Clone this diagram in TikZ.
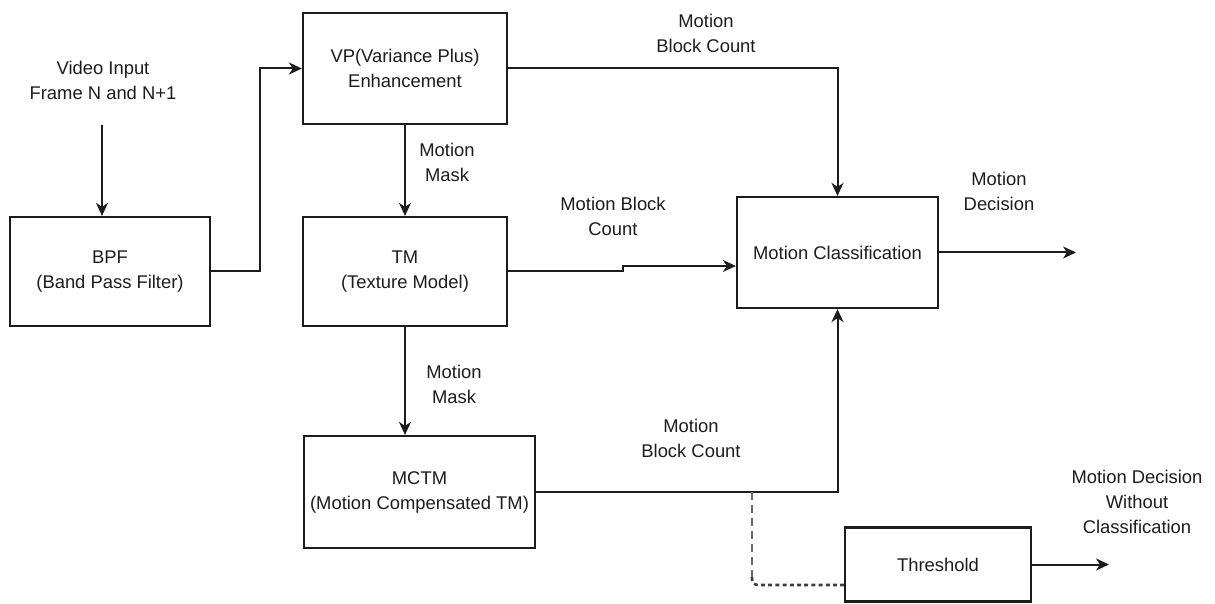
\documentclass[tikz,border=0pt]{standalone}
\usepackage{fontspec}
\setmainfont{Liberation Sans}
\usetikzlibrary{arrows.meta}
\definecolor{ink}{HTML}{1C1C1C}
\definecolor{dashgray}{HTML}{6A6A6A}

\begin{document}
\begin{tikzpicture}[
  x=0.5pt, y=-0.5pt,
  >={Stealth[length=6.5pt, width=6pt, inset=2pt]},
  every node/.style={font=\fontsize{9.2}{12.5}\selectfont, text=ink},
  box/.style 2 args={
    draw=ink, line width=1.1pt, minimum width=#1, minimum height=#2,
    align=center, inner sep=2pt},
  lbl/.style={align=center, inner sep=1pt},
  link/.style={->, draw=ink, line width=1pt},
]

% Canvas (fixes the margins)
\useasboundingbox (0,0) rectangle (1215,604);

% === Processing blocks ===
\node[box={100pt}{54.5pt}] (bpf) at (110,271.5) {BPF\\(Band Pass Filter)};
\node[box={102pt}{55.5pt}] (vp) at (405,68.5) {VP(Variance Plus)\\Enhancement};
\node[box={102pt}{54.5pt}] (tm) at (405,271.5) {TM\\(Texture Model)};
\node[box={115.5pt}{56pt}] (mctm) at (419.5,492) {MCTM\\(Motion Compensated TM)};
\node[box={100.5pt}{55.5pt}] (mc) at (837.5,252.5) {Motion Classification};
\node[box={93pt}{37pt}] (thr) at (938,564.5) {Threshold};

% === Labels ===
\node[lbl] (vin) at (103,80) {Video Input\\Frame N and N+1};
\node[lbl] (mask1) at (447,162) {Motion\\Mask};
\node[lbl] (mask2) at (454,384) {Motion\\Mask};
\node[lbl] (mbc1) at (706,33) {Motion\\Block Count};
\node[lbl] (mbc2) at (613,216) {Motion Block\\Count};
\node[lbl] (mbc3) at (691,438) {Motion\\Block Count};
\node[lbl] (mdec) at (999,191) {Motion\\Decision};
\node[lbl] (mdwc) at (1137,502) {Motion Decision\\Without\\Classification};

% Free ends of the connectors
\coordinate (vinend) at (102,125);
\coordinate (mcout) at (1076,252.5);
\coordinate (throut) at (1109,564.5);
\coordinate (tap) at (752,492);
\coordinate (tapbot) at (752,585);

% === Main chain ===
\draw[link] (vinend) -- (vinend |- bpf.north);
\draw[link] (bpf.east) -- ++(49,0) |- (vp.west);
\draw[link] (vp.south) -- (tm.north);
\draw[link] (tm.south) -- (tm.south |- mctm.north);

% === Block counts into the classifier ===
\draw[link] (vp.east) -| (mc.north);
\draw[link] (tm.east) -- ++(115,0) |- ([yshift=-6.75pt]mc.west);
\draw[link] (mctm.east) -| (mc.south);

% === Outputs ===
\draw[link] (mc.east) -- (mcout);
\draw[link] (thr.east) -- (throut);

% Bypass to the threshold (dashed, then dotted)
\draw[dashgray, line width=0.6pt, dash pattern=on 4pt off 2.5pt] (tap) -- ([yshift=4pt]tapbot);
\draw[ink!85, line width=1.3pt, dash pattern=on 2pt off 1.6pt, rounded corners=3pt]
  ([yshift=4pt]tapbot) |- (thr.west |- tapbot);

\end{tikzpicture}
\end{document}
